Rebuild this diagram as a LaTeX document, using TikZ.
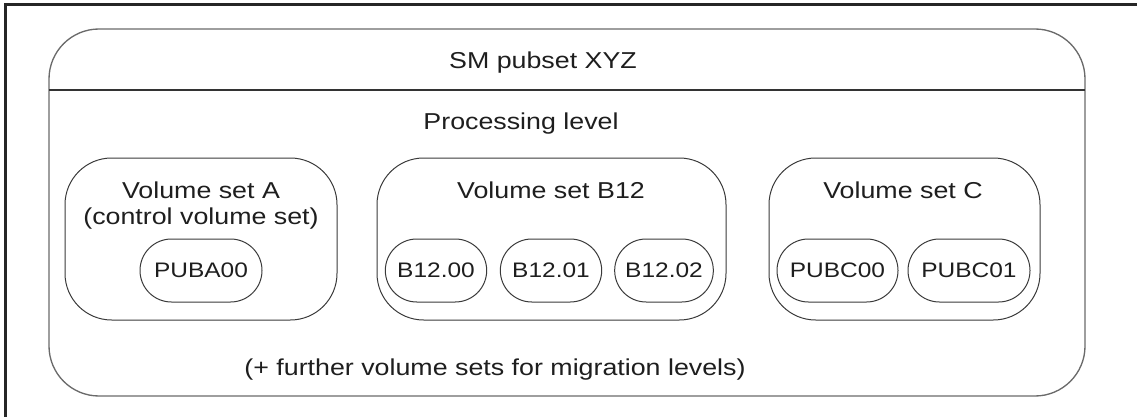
\documentclass[tikz,border=0pt]{standalone}
\usepackage{fontspec}
\setmainfont[FakeStretch=1.165]{Liberation Sans}
\definecolor{txt}{HTML}{1E1E1E}
\definecolor{ln}{HTML}{3A3A3A}
\definecolor{lnbig}{HTML}{6A6A6A}
\tikzset{
  bigfont/.style={font=\fontsize{17.25pt}{20pt}\selectfont, text=txt, inner sep=0pt},
  smallfont/.style={font=\fontsize{15.75pt}{18pt}\selectfont, text=txt, inner sep=0pt},
  setbox/.style={draw=ln, line width=0.75pt, rectangle, rounded corners=35pt, minimum height=121.5pt, inner sep=0pt},
  pill/.style={draw=ln, line width=0.75pt, rectangle, rounded corners=23.6pt, minimum height=47.25pt, inner sep=0pt},
}
\begin{document}
\begin{tikzpicture}[x=0.75pt,y=-0.75pt]
\useasboundingbox (0,0) rectangle (1137,417);
% outer frame (top and left edges)
\draw[line width=1.6pt, draw=black!85] (1137,4.5) -- (5.5,4.5) -- (5.5,417);
% big rounded box
\node[draw=lnbig, line width=1pt, rectangle, rounded corners=37.5pt,
      minimum width=777pt, minimum height=275.25pt, inner sep=0pt] (pubset) at (567,212.5) {};
\coordinate (divL) at (49,90);
\coordinate (divR) at (1085,90);
\draw[draw=black!80, line width=1.2pt] (divL) -- (divR);
\node[bigfont, anchor=base] (title) at (543,69) {SM pubset XYZ};
\node[bigfont, anchor=base] (proc) at (521,130) {Processing level};
% volume set A
\node[setbox, minimum width=204pt] (volA) at (201,239) {};
\node[bigfont, anchor=base] (volAt1) at (201,198) {Volume set A};
\node[bigfont, anchor=base] (volAt2) at (201,224) {(control volume set)};
\node[pill, minimum width=91.5pt] (puba00) at (201,270.5) {};
\node[smallfont, anchor=base] at (201,277) {PUBA00};
% volume set B12
\node[setbox, minimum width=261.75pt] (volB) at (551.5,239) {};
\node[bigfont, anchor=base] (volBt) at (551,198) {Volume set B12};
\node[pill, minimum width=76pt] (b1200) at (436,270.5) {};
\node[smallfont, anchor=base] at (436,277) {B12.00};
\node[pill, minimum width=76pt] (b1201) at (551,270.5) {};
\node[smallfont, anchor=base] at (551,277) {B12.01};
\node[pill, minimum width=74pt] (b1202) at (664,270.5) {};
\node[smallfont, anchor=base] at (664,277) {B12.02};
% volume set C
\node[setbox, minimum width=203.25pt] (volC) at (904.5,239) {};
\node[bigfont, anchor=base] (volCt) at (903,198) {Volume set C};
\node[pill, minimum width=90.75pt] (pubc00) at (837.5,270.5) {};
\node[smallfont, anchor=base] at (837.5,277) {PUBC00};
\node[pill, minimum width=91.5pt] (pubc01) at (969,270.5) {};
\node[smallfont, anchor=base] at (969,277) {PUBC01};
% footer
\node[bigfont, anchor=base] (further) at (495,375) {(+ further volume sets for migration levels)};
\end{tikzpicture}
\end{document}
